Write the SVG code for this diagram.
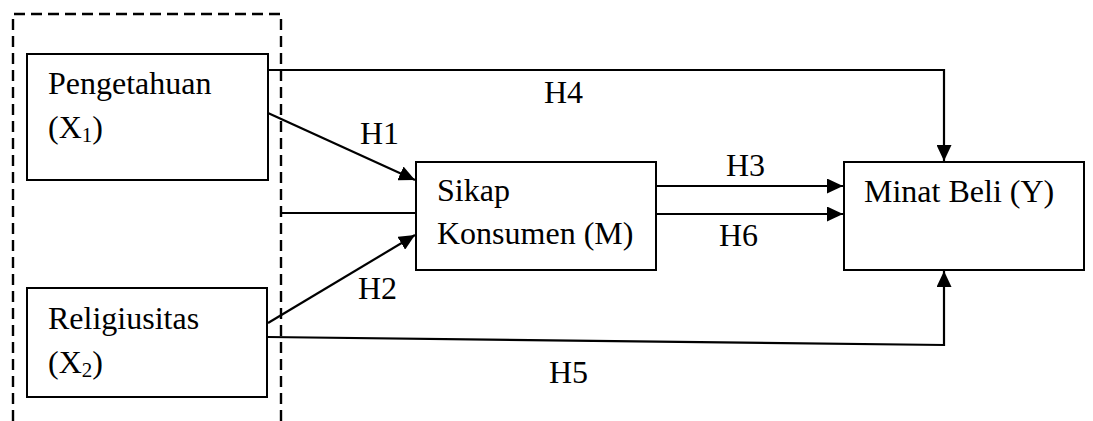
<svg xmlns="http://www.w3.org/2000/svg" width="1093" height="421" viewBox="0 0 1093 421">
<style>
text{font-family:"Liberation Serif","Times New Roman",serif;font-size:32px;fill:#000}
.box{fill:#fff;stroke:#000;stroke-width:2}
.ln{fill:none;stroke:#000;stroke-width:2.2}
.dash{fill:none;stroke:#000;stroke-width:2.4;stroke-dasharray:11 6}
.sub{font-size:21px}
</style>
<defs>
<marker id="ah" markerUnits="userSpaceOnUse" markerWidth="16" markerHeight="15" refX="16" refY="7.5" orient="auto">
<path d="M0,0 L16,7.5 L0,15 z" fill="#000"/>
</marker>
</defs>
<rect width="1093" height="421" fill="#fff"/>
<path class="dash" d="M13,421 V14 H281 V421"/>
<g id="connectors">
<path class="ln" d="M268,70 H944 V161" marker-end="url(#ah)"/>
<path class="ln" d="M268,113 L415,180" marker-end="url(#ah)"/>
<path class="ln" d="M281,213 H416"/>
<path class="ln" d="M268,323 L415,235" marker-end="url(#ah)"/>
<path class="ln" d="M268,337 L944,345 V271" marker-end="url(#ah)"/>
<path class="ln" d="M656,186 H843" marker-end="url(#ah)"/>
<path class="ln" d="M656,214 H843" marker-end="url(#ah)"/>
<text x="544" y="103">H4</text>
<text x="360" y="144">H1</text>
<text x="358" y="299">H2</text>
<text x="726" y="176">H3</text>
<text x="719" y="246">H6</text>
<text x="549" y="383">H5</text>
</g>
<g id="x1">
<rect class="box" x="27" y="54" width="241" height="126"/>
<text x="48" y="94">Pengetahuan</text>
<text x="48" y="138">(X<tspan class="sub" dy="4">1</tspan><tspan dy="-4">)</tspan></text>
</g>
<g id="x2">
<rect class="box" x="27" y="288" width="240" height="109"/>
<text x="48" y="329">Religiusitas</text>
<text x="48" y="373">(X<tspan class="sub" dy="4">2</tspan><tspan dy="-4">)</tspan></text>
</g>
<g id="m">
<rect class="box" x="416" y="162" width="240" height="108"/>
<text x="437" y="201">Sikap</text>
<text x="437" y="244">Konsumen (M)</text>
</g>
<g id="y">
<rect class="box" x="844" y="162" width="240" height="108"/>
<text x="864" y="202">Minat Beli (Y)</text>
</g>
</svg>
